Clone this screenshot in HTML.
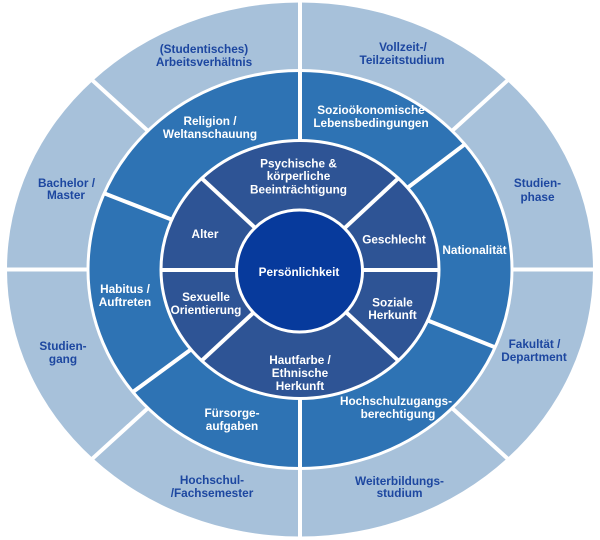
<!DOCTYPE html>
<html>
<head>
<meta charset="utf-8">
<style>
  html,body{margin:0;padding:0;background:#fff;}
  svg{display:block;}
  text{font-family:"Liberation Sans",Arial,sans-serif;font-weight:bold;font-size:11.8px;text-anchor:middle;}
  .o{fill:#1d47a0;}
  .w{fill:#ffffff;}
</style>
</head>
<body>
<svg width="600" height="540" viewBox="0 0 600 540" xmlns="http://www.w3.org/2000/svg">
  <!-- Outer ring -->
  <ellipse cx="300" cy="269.5" rx="293" ry="267" fill="#a7c1da"/>
  <g stroke="#fff" stroke-width="4">
    <line x1="300" y1="269.5" x2="300" y2="-5"/>
    <line x1="300" y1="269.5" x2="300" y2="545"/>
    <line x1="300" y1="269.5" x2="-5" y2="269.5"/>
    <line x1="300" y1="269.5" x2="605" y2="269.5"/>
    <line x1="300" y1="269.5" x2="517.5" y2="71.3"/>
    <line x1="300" y1="269.5" x2="82.5" y2="71.3"/>
    <line x1="300" y1="269.5" x2="82.5" y2="467.7"/>
    <line x1="300" y1="269.5" x2="517.5" y2="467.7"/>
  </g>

  <!-- Third ring -->
  <ellipse cx="300" cy="269.5" rx="212" ry="199" fill="#2e73b4" stroke="#fff" stroke-width="3"/>
  <g stroke="#fff" stroke-width="4">
    <line x1="300" y1="269.5" x2="300" y2="70.5"/>
    <line x1="300" y1="269.5" x2="300" y2="468.5"/>
    <line x1="300" y1="269.5" x2="464.7" y2="144.3"/>
    <line x1="300" y1="269.5" x2="495.1" y2="347.3"/>
    <line x1="300" y1="269.5" x2="132.9" y2="392.0"/>
    <line x1="300" y1="269.5" x2="104.1" y2="193.3"/>
  </g>

  <!-- Second ring -->
  <ellipse cx="300" cy="269.5" rx="139" ry="129" fill="#2e5495" stroke="#fff" stroke-width="3"/>
  <g stroke="#fff" stroke-width="4">
    <line x1="300" y1="270" x2="439" y2="270"/>
    <line x1="300" y1="270" x2="161" y2="270"/>
    <line x1="300" y1="269.5" x2="398.3" y2="178.3"/>
    <line x1="300" y1="269.5" x2="201.7" y2="178.3"/>
    <line x1="300" y1="269.5" x2="201.7" y2="360.7"/>
    <line x1="300" y1="269.5" x2="398.3" y2="360.7"/>
  </g>

  <!-- Center -->
  <ellipse cx="299.5" cy="271" rx="63" ry="61" fill="#073a9c" stroke="#fff" stroke-width="3"/>

  <!-- Outer labels -->
  <text class="o" x="204" y="53.2">(Studentisches)</text>
  <text class="o" x="204" y="66.2">Arbeitsverhältnis</text>
  <text class="o" x="403" y="51.2">Vollzeit-/</text>
  <text class="o" x="402" y="64.2">Teilzeitstudium</text>
  <text class="o" x="537.5" y="187.2">Studien-</text>
  <text class="o" x="537.5" y="201.2">phase</text>
  <text class="o" x="534.5" y="348.2">Fakultät /</text>
  <text class="o" x="534" y="361.2">Department</text>
  <text class="o" x="399.5" y="484.9">Weiterbildungs-</text>
  <text class="o" x="399.5" y="496.9">studium</text>
  <text class="o" x="212" y="484.2">Hochschul-</text>
  <text class="o" x="212" y="496.9">/Fachsemester</text>
  <text class="o" x="63" y="350.2">Studien-</text>
  <text class="o" x="63" y="363.2">gang</text>
  <text class="o" x="66.5" y="186.9">Bachelor /</text>
  <text class="o" x="66" y="199.2">Master</text>

  <!-- Third ring labels -->
  <text class="w" x="210" y="125.2">Religion /</text>
  <text class="w" x="210" y="138.2">Weltanschauung</text>
  <text class="w" x="371" y="114.2">Sozioökonomische</text>
  <text class="w" x="371" y="127.2">Lebensbedingungen</text>
  <text class="w" x="474.5" y="254.2">Nationalität</text>
  <text class="w" x="396" y="405.2">Hochschulzugangs-</text>
  <text class="w" x="398" y="418.2">berechtigung</text>
  <text class="w" x="232" y="416.9">Fürsorge-</text>
  <text class="w" x="232" y="429.9">aufgaben</text>
  <text class="w" x="125" y="293.2">Habitus /</text>
  <text class="w" x="125" y="305.9">Auftreten</text>

  <!-- Second ring labels -->
  <text class="w" x="298.5" y="167.5">Psychische &amp;</text>
  <text class="w" x="298.5" y="180.2">körperliche</text>
  <text class="w" x="298.5" y="193.5">Beeinträchtigung</text>
  <text class="w" x="205" y="238.2">Alter</text>
  <text class="w" x="394" y="243.5">Geschlecht</text>
  <text class="w" x="206" y="300.9">Sexuelle</text>
  <text class="w" x="206" y="314.2">Orientierung</text>
  <text class="w" x="392.5" y="306.5">Soziale</text>
  <text class="w" x="392.5" y="319.2">Herkunft</text>
  <text class="w" x="300" y="364.2">Hautfarbe /</text>
  <text class="w" x="300" y="376.9">Ethnische</text>
  <text class="w" x="300" y="390.2">Herkunft</text>

  <!-- Center label -->
  <text class="w" x="299" y="275.9">Persönlichkeit</text>
</svg>
</body>
</html>
